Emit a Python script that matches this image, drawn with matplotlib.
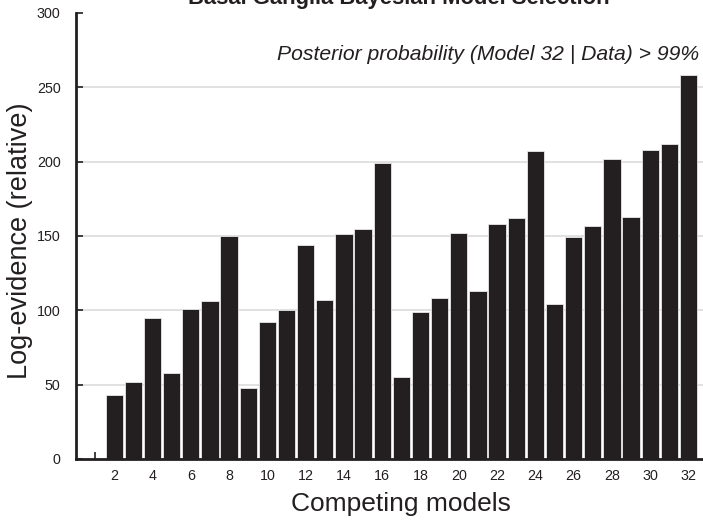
import numpy as np
import matplotlib
matplotlib.use('Agg')
import matplotlib.pyplot as plt

plt.rcParams['font.family'] = ['Liberation Sans', 'DejaVu Sans']

models = list(range(1, 33))
log_evidence = [0, 43, 52, 95, 58, 101, 106, 150, 48, 92, 100, 144, 107, 151, 155, 199,
                55, 99, 108, 152, 113, 158, 162, 207, 104, 149, 157, 202, 163, 208, 212, 258]
tick_labels = [str(m) if m % 2 == 0 else '' for m in models]

fig = plt.figure(figsize=(7.03, 5.26), dpi=100)
ax = fig.add_axes([0.108, 0.1274, 0.892, 0.848])

ax.bar(models, log_evidence, width=0.9, color='#231f20', edgecolor='#e8e8e8', linewidth=0.6, zorder=2)

ax.set_xlim(0, 32.76)
ax.set_ylim(0, 300)
ax.set_yticks([0, 50, 100, 150, 200, 250, 300])
ax.set_xticks(models)
ax.set_xticklabels(tick_labels)
ax.tick_params(axis='both', direction='in', length=5, width=1.2, labelsize=10.3, colors='#231f20')
ax.tick_params(axis='y', pad=11)
ax.tick_params(axis='x', pad=7)
ax.set_axisbelow(True)

for v in [50, 100, 150, 200, 250]:
    ax.axhline(v, color='#dcdcdc', linewidth=1.2, zorder=0)

for s in ['top', 'right']:
    ax.spines[s].set_visible(False)
for s in ['left', 'bottom']:
    ax.spines[s].set_linewidth(2)
    ax.spines[s].set_color('#231f20')

ax.set_xlabel('Competing models', fontsize=19, color='#231f20', labelpad=7)
ax.xaxis.label.set_x(0.518)
ax.set_ylabel('Log-evidence (relative)', fontsize=19.5, color='#231f20', labelpad=3)
ax.yaxis.label.set_y(0.49)

ax.text(0.994, 0.894, 'Posterior probability (Model 32 | Data) > 99%', transform=ax.transAxes,
        ha='right', va='baseline', fontsize=15.2, style='italic', color='#231f20')
fig.text(0.567, 0.992, 'Basal Ganglia Bayesian Model Selection', ha='center', va='baseline',
         fontsize=15.8, weight='bold', color='#231f20')

fig.savefig('out.png', dpi=100)
